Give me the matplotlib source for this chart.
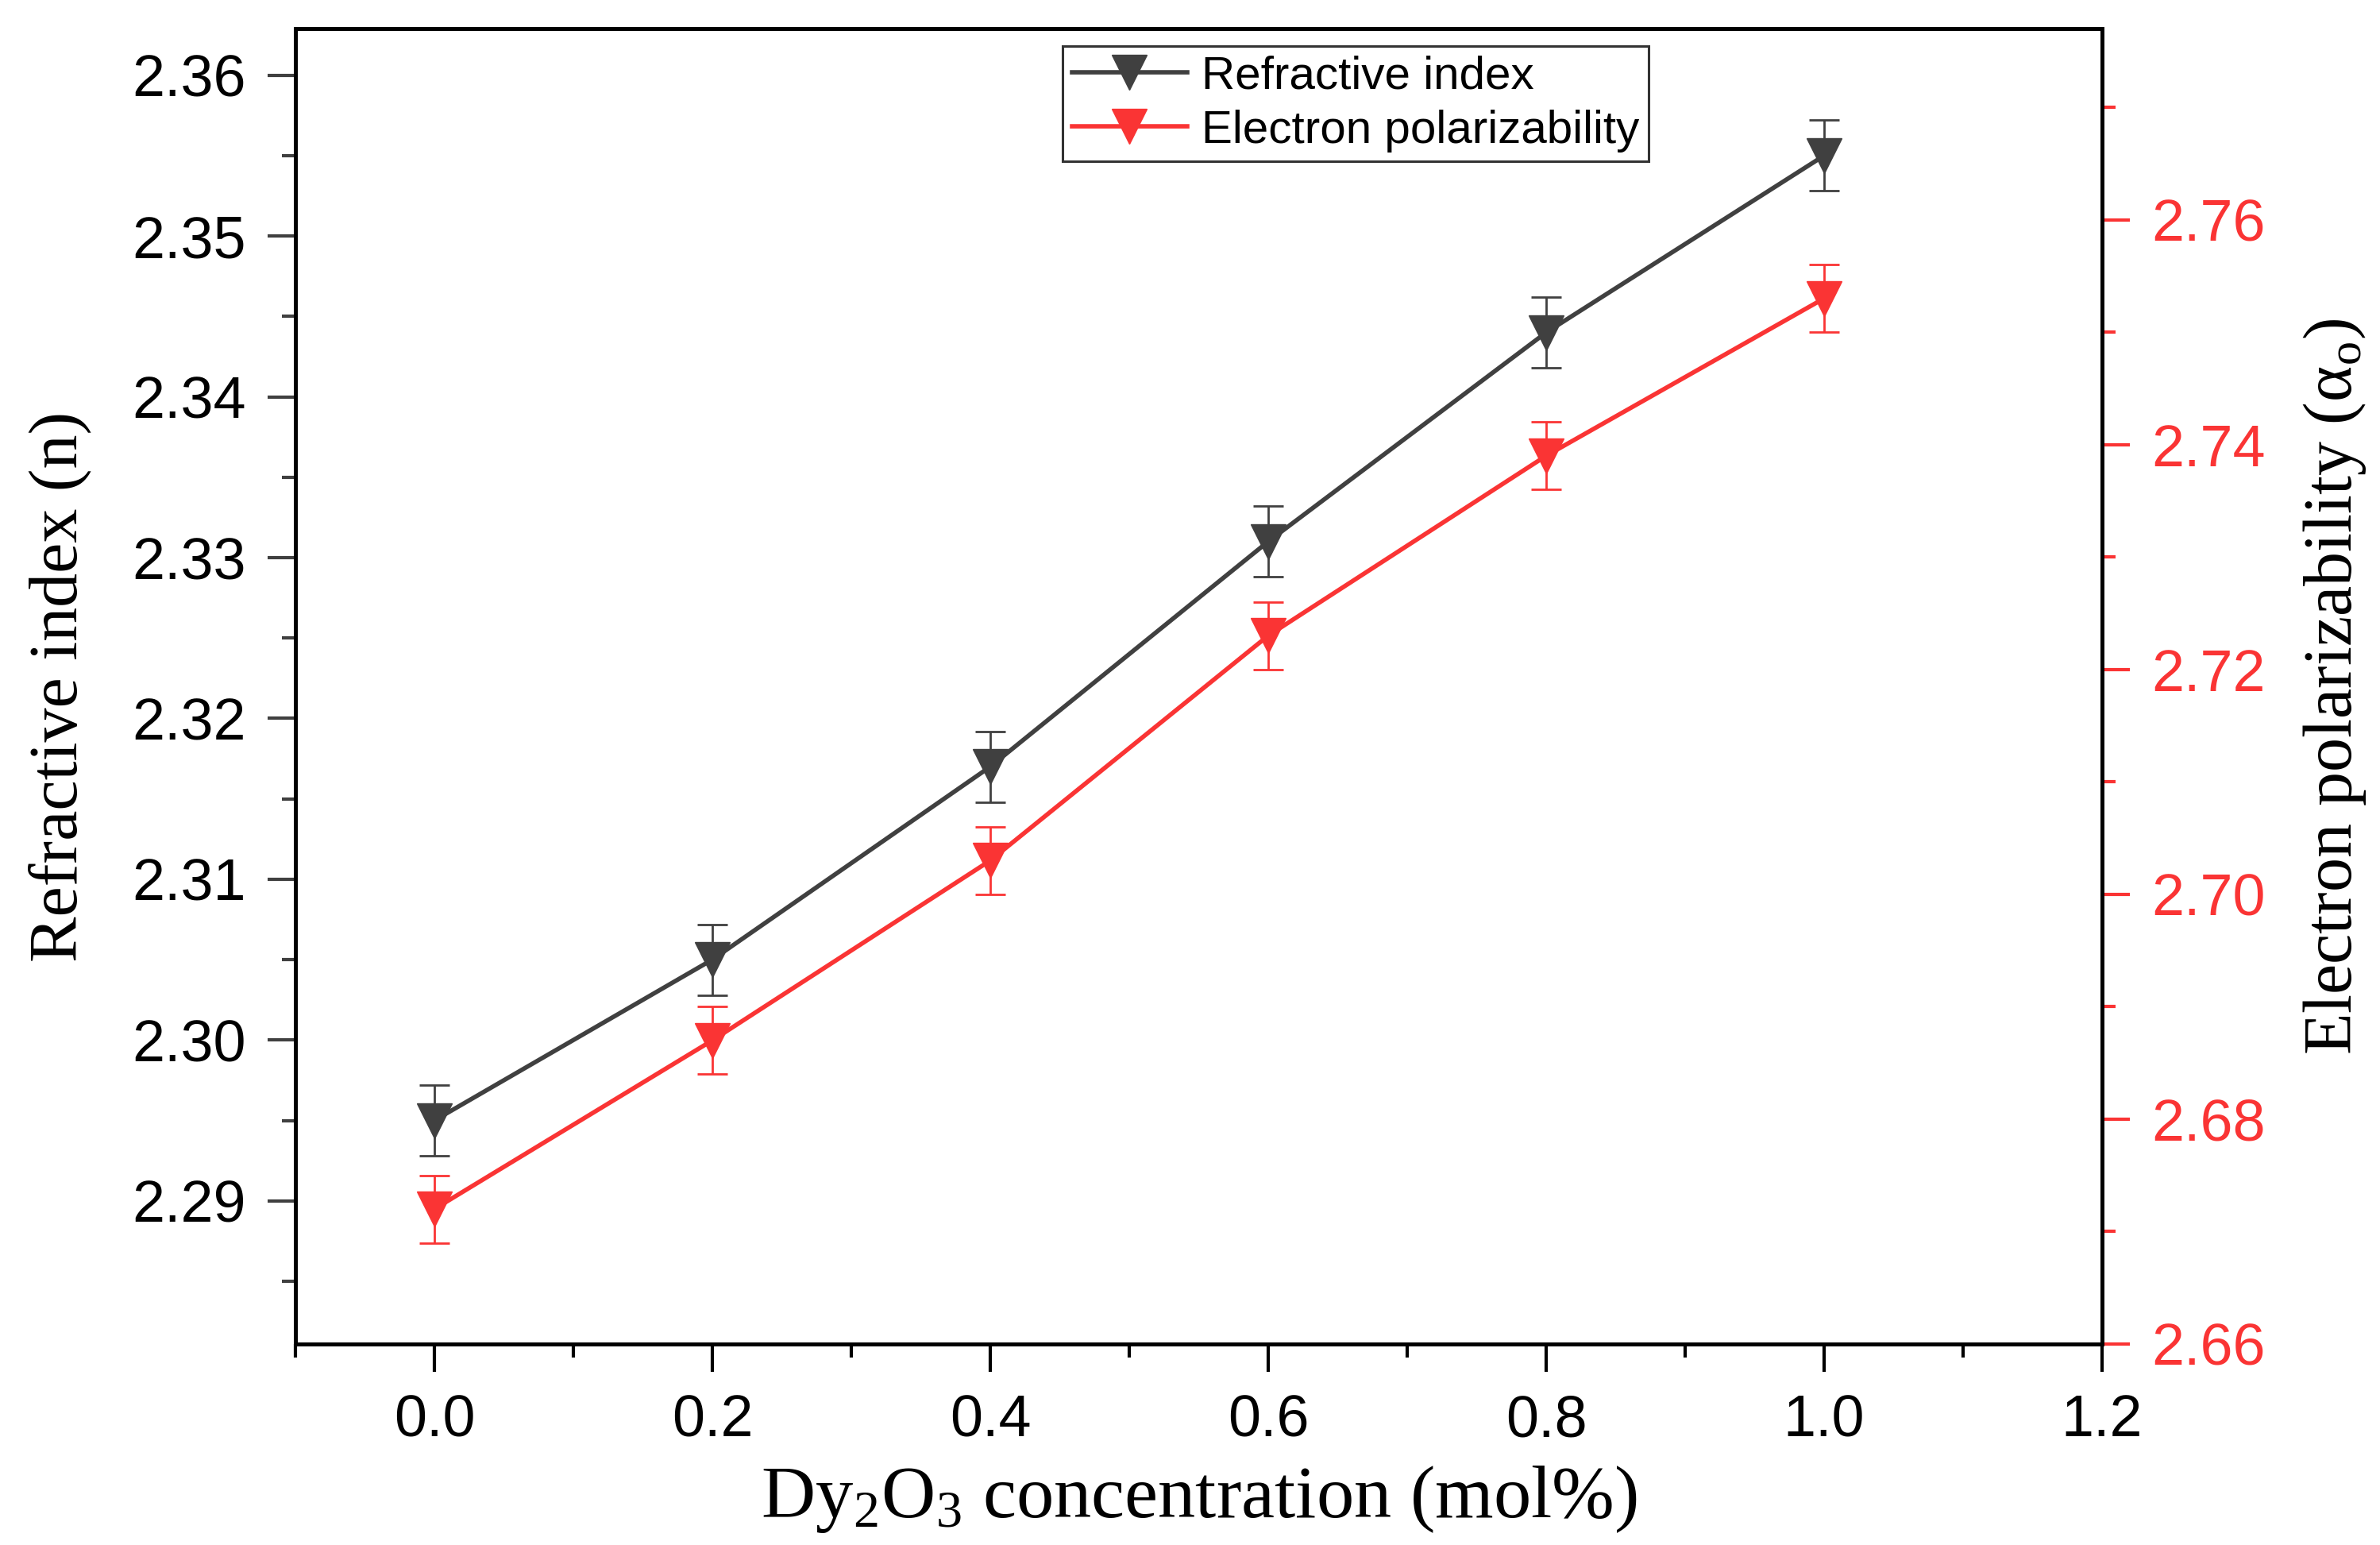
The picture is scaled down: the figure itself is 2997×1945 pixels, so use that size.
import matplotlib
matplotlib.use("Agg")
import matplotlib.pyplot as plt
from matplotlib.lines import Line2D
from matplotlib.ticker import MultipleLocator

# Dy2O3 concentration (mol%)
conc = [0.0, 0.2, 0.4, 0.6, 0.8, 1.0]

# refractive index (left axis)
n_vals = [2.295, 2.305, 2.317, 2.331, 2.344, 2.355]
n_err = [0.0022, 0.0022, 0.0022, 0.0022, 0.0022, 0.0022]

# electron polarizability (right axis)
alpha_vals = [2.672, 2.687, 2.703, 2.723, 2.739, 2.753]
alpha_err = [0.003, 0.003, 0.003, 0.003, 0.003, 0.003]

gray = '#404040'
red = '#fa3434'

plt.rcParams['mathtext.fontset'] = 'custom'
plt.rcParams['mathtext.rm'] = 'Liberation Serif'
plt.rcParams['mathtext.it'] = 'Liberation Serif:italic'

sans = 'Liberation Sans'
serif = 'Liberation Serif'

fig = plt.figure(figsize=(29.97, 19.45), dpi=100)
ax = fig.add_axes([0.1241, 0.1301, 0.7591, 0.8514])
ax2 = ax.twinx()

ax.errorbar(conc, n_vals, yerr=n_err, color=gray, lw=4, marker='v',
            ms=31, capsize=14, elinewidth=2, capthick=2)
ax2.errorbar(conc, alpha_vals, yerr=alpha_err, color=red, lw=4, marker='v',
             ms=31, capsize=14, elinewidth=2, capthick=2)

ax.set_xlim(-0.1, 1.2)
ax.set_ylim(2.2811, 2.3629)
ax2.set_ylim(2.66, 2.777)

ax.xaxis.set_minor_locator(MultipleLocator(0.1))
ax.yaxis.set_minor_locator(MultipleLocator(0.005))
ax2.yaxis.set_minor_locator(MultipleLocator(0.01))

ax.set_xticks([0.0, 0.2, 0.4, 0.6, 0.8, 1.0, 1.2])
ax.set_xticklabels(['0.0', '0.2', '0.4', '0.6', '0.8', '1.0', '1.2'], family=sans)
ax.set_yticks([2.29, 2.30, 2.31, 2.32, 2.33, 2.34, 2.35, 2.36])
ax.set_yticklabels(['2.29', '2.30', '2.31', '2.32', '2.33', '2.34', '2.35', '2.36'], family=sans)
ax2.set_yticks([2.66, 2.68, 2.70, 2.72, 2.74, 2.76])
ax2.set_yticklabels(['2.66', '2.68', '2.70', '2.72', '2.74', '2.76'], family=sans)

ax.tick_params(axis='both', which='major', labelsize=53, length=25, width=3, pad=20)
ax.tick_params(axis='both', which='minor', length=12, width=3)
ax.tick_params(axis='y', which='both', colors=gray, labelcolor='black')
ax.tick_params(axis='x', which='both', colors='black')
ax.tick_params(top=False, right=False, which='both')
ax2.tick_params(axis='y', which='major', labelsize=53, length=25, width=3, pad=20,
                colors=red, labelcolor=red)
ax2.tick_params(axis='y', which='minor', length=12, width=3, colors=red)

for s in ['top', 'bottom']:
    ax2.spines[s].set_linewidth(3.6)
    ax2.spines[s].set_color('black')
ax2.spines['left'].set_color(gray)
ax2.spines['left'].set_linewidth(3.6)
ax2.spines['right'].set_color(red)
ax2.spines['right'].set_linewidth(3.6)
for s in ax.spines.values():
    s.set_linewidth(3.6)

ax.set_xlabel('Dy$_2$O$_3$ concentration (mol%)', family=serif, fontsize=68, labelpad=14)
ax.set_ylabel('Refractive index (n)', family=serif, fontsize=62, labelpad=36)
ax2.set_ylabel('Electron polarizability (α$_{\\rm o}$)', family=serif, fontsize=62,
               labelpad=32)

# legend handles: line + marker only, no error bars
h1 = Line2D([], [], color=gray, lw=4, marker='v', ms=31)
h2 = Line2D([], [], color=red, lw=4, marker='v', ms=31)
leg = ax.legend([h1, h2], ['Refractive index', 'Electron polarizability'],
                loc='upper left', bbox_to_anchor=(0.4246, 0.987),
                prop={'family': sans, 'size': 42}, frameon=True, fancybox=False,
                edgecolor='black', handlelength=2.5, handletextpad=0.3,
                borderpad=0.2, labelspacing=0.25, borderaxespad=0)
leg.get_frame().set_linewidth(2.2)
leg.set_zorder(10)
ax.set_zorder(ax2.get_zorder() + 1)
ax.patch.set_visible(False)

fig.savefig('out.png', dpi=100)
